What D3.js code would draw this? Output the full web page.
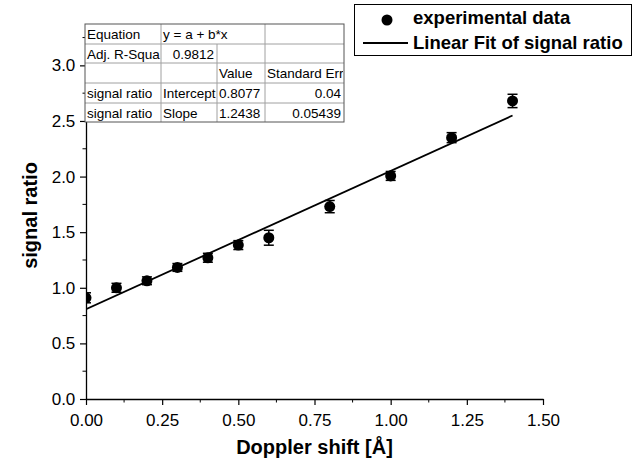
<!DOCTYPE html>
<html>
<head>
<meta charset="utf-8">
<script src="https://cdn.jsdelivr.net/npm/d3@7"></script>
<style>
  body { margin: 0; background: #fff; }
  svg { font-family: "Liberation Sans", Arial, sans-serif; }
</style>
</head>
<body>
<svg id="chart"></svg>
<script>
const width = 637;
const height = 462;

// measured data
const shift = [0, 0.1, 0.2, 0.3, 0.4, 0.5, 0.6, 0.8, 1.0, 1.2, 1.4];
const ratio = [0.91, 1.00, 1.063, 1.183, 1.27, 1.384, 1.45, 1.73, 2.006, 2.35, 2.68];
const ratioErr = [0.045, 0.04, 0.035, 0.035, 0.04, 0.04, 0.067, 0.055, 0.04, 0.045, 0.06];

// fit parameters
const intercept = 0.8077;
const slope = 1.2438;
const fitRange = [0, 1.4];

const xTicks = [0, 0.25, 0.5, 0.75, 1.0, 1.25, 1.5];
const yTicks = [0, 0.5, 1.0, 1.5, 2.0, 2.5, 3.0];

// results table rows
const tableRows = [
    ["Equation", "y = a + b*x", "", ""],
    ["Adj. R-Squa", "0.9812", "", ""],
    ["", "", "Value", "Standard Err"],
    ["signal ratio", "Intercept", "0.8077", "0.04"],
    ["signal ratio", "Slope", "1.2438", "0.05439"]
];

const legendItems = ["experimental data", "Linear Fit of signal ratio"];

const margin = { left: 86, right: 94, top: 32, bottom: 63 };
const x = d3.scaleLinear().domain([0, 1.5]).range([margin.left, width - margin.right]);
const y = d3.scaleLinear().domain([0, 3.3]).range([height - margin.bottom, margin.top]);

const svg = d3.select("#chart").attr("width", width).attr("height", height);

svg.append("clipPath").attr("id", "plotClip")
    .append("rect")
    .attr("x", x(0)).attr("y", y(3.3))
    .attr("width", x(1.5) - x(0)).attr("height", y(0) - y(3.3));

// axes
const xAxis = svg.append("g")
    .attr("transform", `translate(0,${y(0)})`)
    .call(d3.axisBottom(x).tickValues(xTicks).tickFormat(d3.format(".2f")).tickSize(6).tickSizeOuter(0));
xAxis.append("g").selectAll("line")
    .data(d3.range(0.125, 1.5, 0.25))
    .enter().append("line")
    .attr("x1", d => x(d)).attr("x2", d => x(d))
    .attr("y1", 0).attr("y2", 3.5)
    .attr("stroke", "#000");

const yAxis = svg.append("g")
    .attr("transform", `translate(${x(0)},0)`)
    .call(d3.axisLeft(y).tickValues(yTicks).tickFormat(d3.format(".1f")).tickSize(6).tickSizeOuter(0));
yAxis.append("g").selectAll("line")
    .data(d3.range(0.25, 3.3, 0.5))
    .enter().append("line")
    .attr("y1", d => y(d)).attr("y2", d => y(d))
    .attr("x1", 0).attr("x2", -3.5)
    .attr("stroke", "#000");

svg.selectAll(".domain").attr("stroke-width", 1.3);
svg.selectAll(".tick line").attr("stroke-width", 1.2);
svg.selectAll(".tick text").attr("font-size", 17).attr("fill", "#000")
    .attr("font-family", "Liberation Sans, Arial, sans-serif");
xAxis.selectAll(".tick text").attr("dy", "1.05em");
yAxis.selectAll(".tick text").attr("dx", "-0.1em");

// axis titles
svg.append("text")
    .attr("x", (x(0) + x(1.5)) / 2).attr("y", 454)
    .attr("text-anchor", "middle")
    .attr("font-size", 20).attr("font-weight", "bold")
    .text("Doppler shift [Å]");

svg.append("text")
    .attr("transform", `translate(37,${(y(0) + y(3.3)) / 2}) rotate(-90)`)
    .attr("text-anchor", "middle")
    .attr("font-size", 20).attr("font-weight", "bold")
    .text("signal ratio");

const plot = svg.append("g").attr("clip-path", "url(#plotClip)");

// fit line
plot.append("line")
    .attr("x1", x(fitRange[0])).attr("y1", y(intercept + slope * fitRange[0]))
    .attr("x2", x(fitRange[1])).attr("y2", y(intercept + slope * fitRange[1]))
    .attr("stroke", "#000").attr("stroke-width", 1.8);

// error bars
const pts = shift.map((s, i) => ({ s: s, r: ratio[i], e: ratioErr[i] }));
const bars = plot.selectAll(".err").data(pts).enter().append("g").attr("class", "err")
    .attr("stroke", "#000").attr("stroke-width", 1.5);
bars.append("line")
    .attr("x1", d => x(d.s)).attr("x2", d => x(d.s))
    .attr("y1", d => y(d.r - d.e)).attr("y2", d => y(d.r + d.e));
bars.append("line")
    .attr("x1", d => x(d.s) - 5).attr("x2", d => x(d.s) + 5)
    .attr("y1", d => y(d.r - d.e)).attr("y2", d => y(d.r - d.e));
bars.append("line")
    .attr("x1", d => x(d.s) - 5).attr("x2", d => x(d.s) + 5)
    .attr("y1", d => y(d.r + d.e)).attr("y2", d => y(d.r + d.e));

plot.selectAll(".pt").data(pts).enter().append("circle")
    .attr("class", "pt")
    .attr("cx", d => x(d.s)).attr("cy", d => y(d.r))
    .attr("r", 5.5).attr("fill", "#000");

// results table
const colX = [85, 161, 217, 265, 344];
const rowY = [24, 44, 63, 83, 103, 122];
const table = svg.append("g");
table.append("rect")
    .attr("x", colX[0]).attr("y", rowY[0])
    .attr("width", colX[4] - colX[0]).attr("height", rowY[5] - rowY[0])
    .attr("fill", "#fff");

// inner grid
for (let r = 1; r < 5; r++) {
    table.append("line")
        .attr("x1", colX[0]).attr("x2", colX[4])
        .attr("y1", rowY[r]).attr("y2", rowY[r])
        .attr("stroke", "#a0a0a0").attr("stroke-width", 1);
}
for (let c = 1; c < 4; c++) {
    table.append("line")
        .attr("x1", colX[c]).attr("x2", colX[c])
        .attr("y1", c === 2 ? rowY[1] : rowY[0]).attr("y2", rowY[5])
        .attr("stroke", "#a0a0a0").attr("stroke-width", 1);
}
table.append("rect")
    .attr("x", colX[0]).attr("y", rowY[0])
    .attr("width", colX[4] - colX[0]).attr("height", rowY[5] - rowY[0])
    .attr("fill", "none").attr("stroke", "#555").attr("stroke-width", 1);

const rightAligned = (r, c) => (r === 1 && c === 1) || (r >= 3 && c === 3);
const cellText = table.append("g")
    .attr("font-size", 13.5).attr("fill", "#000");
tableRows.forEach((row, r) => {
    row.forEach((txt, c) => {
        if (!txt) return;
        const ra = rightAligned(r, c);
        cellText.append("text")
            .attr("x", ra ? colX[c + 1] - 3 : colX[c] + 2)
            .attr("y", rowY[r] + 15)
            .attr("text-anchor", ra ? "end" : "start")
            .text(txt);
    });
});
// text clipping for last column
svg.append("clipPath").attr("id", "tblClip").append("rect")
    .attr("x", colX[0]).attr("y", rowY[0])
    .attr("width", colX[4] - colX[0] - 1).attr("height", rowY[5] - rowY[0]);
cellText.attr("clip-path", "url(#tblClip)");

// legend
const legend = svg.append("g");
legend.append("rect")
    .attr("x", 354.5).attr("y", 4.5).attr("width", 277).attr("height", 51)
    .attr("fill", "#fff").attr("stroke", "#000").attr("stroke-width", 1);
legend.append("circle").attr("cx", 387).attr("cy", 20).attr("r", 5.5).attr("fill", "#000");
legend.append("line").attr("x1", 363).attr("x2", 408).attr("y1", 43).attr("y2", 43)
    .attr("stroke", "#000").attr("stroke-width", 1.8);
legend.selectAll("text.lg").data(legendItems).enter().append("text")
    .attr("class", "lg")
    .attr("x", 413).attr("y", (d, i) => 24 + i * 25)
    .attr("font-size", 18.5).attr("font-weight", "bold")
    .text(d => d);
</script>
</body>
</html>
